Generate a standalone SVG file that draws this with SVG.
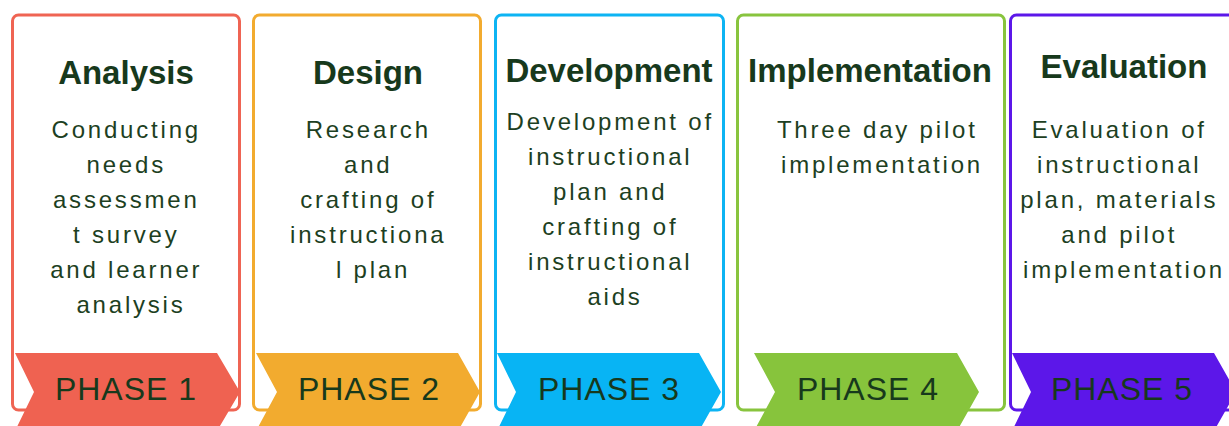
<svg xmlns="http://www.w3.org/2000/svg" width="1229" height="426" viewBox="0 0 1229 426">
  <style>
    .card { fill: #ffffff; stroke-width: 3; }
    .title { font-family: "Liberation Sans", Arial, sans-serif; font-size: 33px; font-weight: bold; fill: #17391c; text-anchor: middle; }
    .body { font-family: "Liberation Sans", Arial, sans-serif; font-size: 24px; letter-spacing: 2.8px; fill: #1d3f22; text-anchor: middle; }
    .phase { font-family: "Liberation Sans", Arial, sans-serif; font-size: 32px; letter-spacing: 1px; fill: #17391c; text-anchor: middle; }
  </style>
  <rect width="1229" height="426" fill="#ffffff"/>

  <!-- Phase 1: Analysis -->
  <g id="phase1">
    <rect class="card" x="12.5" y="15" width="227" height="395" rx="6" stroke="#ef6453"/>
    <polygon points="15,353 217,353 240,392 217,431 15,431 34,392" fill="#ef6251"/>
    <text class="title" x="126" y="84">Analysis</text>
    <text class="body">
      <tspan x="131" y="138">Conducting</tspan>
      <tspan x="131" y="173">needs</tspan>
      <tspan x="131" y="208">assessmen</tspan>
      <tspan x="131" y="243">t survey</tspan>
      <tspan x="131" y="278">and learner</tspan>
      <tspan x="131" y="313">analysis</tspan>
    </text>
    <text class="phase" x="126" y="400">PHASE 1</text>
  </g>

  <!-- Phase 2: Design -->
  <g id="phase2">
    <rect class="card" x="253.5" y="15" width="227" height="395" rx="6" stroke="#f2ab2f"/>
    <polygon points="256,353 458,353 480,392 458,431 256,431 277,392" fill="#f2ab2f"/>
    <text class="title" x="368" y="84">Design</text>
    <text class="body">
      <tspan x="373" y="138">Research</tspan>
      <tspan x="373" y="173">and</tspan>
      <tspan x="373" y="208">crafting of</tspan>
      <tspan x="373" y="243">instructiona</tspan>
      <tspan x="373" y="278">l plan</tspan>
    </text>
    <text class="phase" x="369" y="400">PHASE 2</text>
  </g>

  <!-- Phase 3: Development -->
  <g id="phase3">
    <rect class="card" x="495.5" y="15" width="228" height="395" rx="6" stroke="#0db4f3"/>
    <polygon points="497,353 699,353 721,392 699,431 497,431 516,392" fill="#08b4f4"/>
    <text class="title" x="609" y="82">Development</text>
    <text class="body">
      <tspan x="615" y="130">Development of</tspan>
      <tspan x="615" y="165">instructional</tspan>
      <tspan x="615" y="200">plan and</tspan>
      <tspan x="615" y="235">crafting of</tspan>
      <tspan x="615" y="270">instructional</tspan>
      <tspan x="615" y="305">aids</tspan>
    </text>
    <text class="phase" x="609" y="400">PHASE 3</text>
  </g>

  <!-- Phase 4: Implementation -->
  <g id="phase4">
    <rect class="card" x="737.5" y="15" width="267" height="395" rx="6" stroke="#88c43e"/>
    <polygon points="754,353 957,353 979,392 957,431 754,431 775,392" fill="#87c43c"/>
    <text class="title" x="870" y="82">Implementation</text>
    <text class="body">
      <tspan x="882" y="138">Three day pilot</tspan>
      <tspan x="882" y="173">implementation</tspan>
    </text>
    <text class="phase" x="868" y="400">PHASE 4</text>
  </g>

  <!-- Phase 5: Evaluation -->
  <g id="phase5">
    <rect class="card" x="1010.5" y="15" width="227" height="395" rx="6" stroke="#5c17e9"/>
    <polygon points="1012,353 1214,353 1236,392 1214,431 1012,431 1031,392" fill="#5c17e9"/>
    <text class="title" x="1124" y="78">Evaluation</text>
    <text class="body">
      <tspan x="1124" y="138">Evaluation of</tspan>
      <tspan x="1124" y="173">instructional</tspan>
      <tspan x="1124" y="208">plan, materials</tspan>
      <tspan x="1124" y="243">and pilot</tspan>
      <tspan x="1124" y="278">implementation</tspan>
    </text>
    <text class="phase" x="1122" y="400">PHASE 5</text>
  </g>

  <!-- no connectors between the phase cards -->
  <g id="connectors"/>
</svg>
